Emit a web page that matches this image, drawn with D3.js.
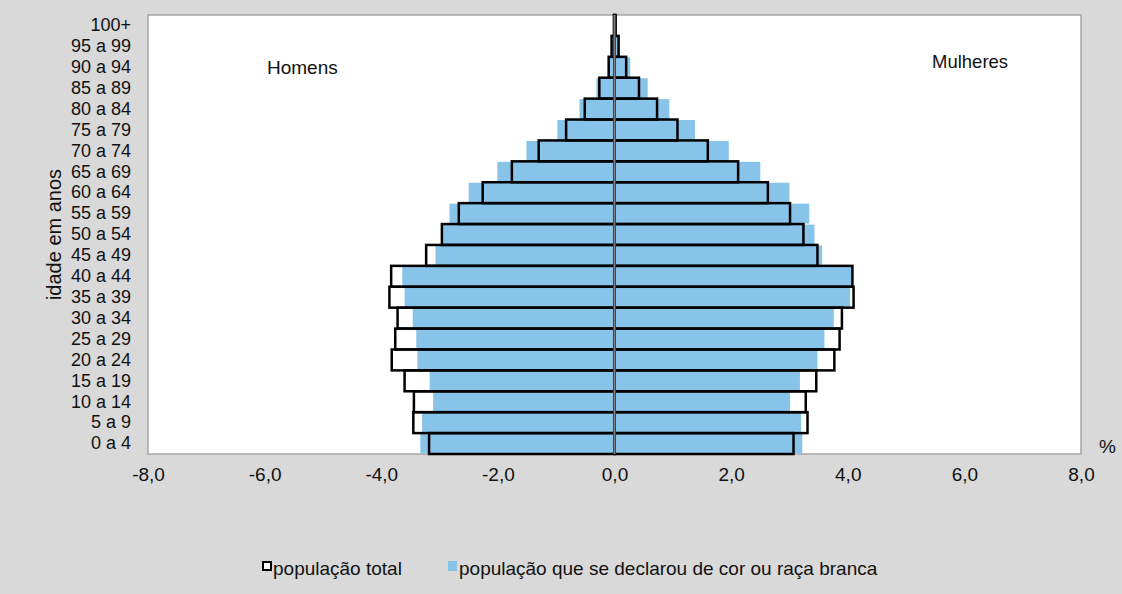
<!DOCTYPE html>
<html>
<head>
<meta charset="utf-8">
<script src="https://cdn.jsdelivr.net/npm/d3@7"></script>
<style>
  html, body { margin: 0; padding: 0; background: #d9d9d9; }
  svg { display: block; font-family: "Liberation Sans", Arial, sans-serif; }
</style>
</head>
<body>
<div id="chart"></div>
<script>
"use strict";

// age groups, from youngest to oldest
const age_groups = ["0 a 4", "5 a 9", "10 a 14", "15 a 19", "20 a 24", "25 a 29", "30 a 34",
    "35 a 39", "40 a 44", "45 a 49", "50 a 54", "55 a 59", "60 a 64", "65 a 69",
    "70 a 74", "75 a 79", "80 a 84", "85 a 89", "90 a 94", "95 a 99", "100+"];

// percentages (men are negative)
const men_total = [-3.18, -3.45, -3.44, -3.60, -3.82, -3.76, -3.72, -3.86, -3.83, -3.23,
    -2.96, -2.67, -2.26, -1.76, -1.30, -0.83, -0.51, -0.26, -0.10, -0.05, -0.01];
const men_white = [-3.33, -3.30, -3.11, -3.17, -3.38, -3.40, -3.46, -3.60, -3.64, -3.07,
    -2.94, -2.83, -2.50, -2.01, -1.51, -0.98, -0.60, -0.31, -0.11, -0.04, -0.01];
const women_total = [3.07, 3.31, 3.28, 3.46, 3.77, 3.86, 3.90, 4.10, 4.08, 3.48,
    3.24, 3.01, 2.63, 2.12, 1.60, 1.08, 0.73, 0.42, 0.20, 0.07, 0.02];
const women_white = [3.22, 3.20, 3.01, 3.18, 3.48, 3.60, 3.76, 4.04, 4.06, 3.56,
    3.43, 3.34, 3.00, 2.50, 1.96, 1.38, 0.94, 0.57, 0.27, 0.09, 0.02];

const x_ticks = [-8, -6, -4, -2, 0, 2, 4, 6, 8];
const legend_labels = ["população total", "população que se declarou de cor ou raça branca"];

const width = 1122, height = 594;
const margins = {top: 15, right: 41, bottom: 140, left: 148};
const plot_width = width - margins.left - margins.right;
const plot_height = height - margins.top - margins.bottom;

const blue = "#88c4ea";
const text_color = "#111111";

const svg = d3.select("#chart").append("svg")
    .attr("width", width)
    .attr("height", height);

svg.append("rect")
    .attr("width", width)
    .attr("height", height)
    .attr("fill", "#d9d9d9");

const x_scale = d3.scaleLinear()
    .domain([-8, 8])
    .range([0, plot_width]);

// oldest group on top
const y_scale = d3.scaleBand()
    .domain(age_groups.slice().reverse())
    .range([0, plot_height])
    .padding(0);

const plot = svg.append("g")
    .attr("transform", "translate(" + margins.left + "," + margins.top + ")");

plot.append("rect")
    .attr("width", plot_width)
    .attr("height", plot_height)
    .attr("fill", "white")
    .attr("stroke", "#a6a6a6")
    .attr("stroke-width", 1.5);

function bar_x(v) { return x_scale(Math.min(0, v)); }
function bar_w(v) { return Math.abs(x_scale(v) - x_scale(0)); }

// white population, blue filled bars
[men_white, women_white].forEach(function (series) {
    plot.append("g")
        .selectAll("rect")
        .data(series)
        .join("rect")
        .attr("x", d => bar_x(d))
        .attr("y", (d, i) => y_scale(age_groups[i]) + 0.5)
        .attr("width", d => bar_w(d))
        .attr("height", y_scale.bandwidth() - 1)
        .attr("fill", blue);
});

// total population, black outlines on top
[men_total, women_total].forEach(function (series) {
    plot.append("g")
        .selectAll("rect")
        .data(series)
        .join("rect")
        .attr("x", d => bar_x(d))
        .attr("y", (d, i) => y_scale(age_groups[i]))
        .attr("width", d => bar_w(d))
        .attr("height", y_scale.bandwidth())
        .attr("fill", "none")
        .attr("stroke", "black")
        .attr("stroke-width", 2.5);
});

// zero line
plot.append("line")
    .attr("x1", x_scale(0))
    .attr("x2", x_scale(0))
    .attr("y1", 0)
    .attr("y2", plot_height)
    .attr("stroke", "#808080")
    .attr("stroke-width", 2);

// X axis
const x_axis = d3.axisBottom(x_scale)
    .tickValues(x_ticks)
    .tickSize(0)
    .tickPadding(14)
    .tickFormat(d => d.toFixed(1).replace(".", ","));

const gx = plot.append("g")
    .attr("transform", "translate(0," + plot_height + ")")
    .call(x_axis);
gx.select(".domain").remove();
gx.selectAll("text")
    .attr("font-family", "Liberation Sans, Arial, sans-serif")
    .attr("font-size", 19)
    .attr("fill", text_color);

// Y axis
const y_axis = d3.axisLeft(y_scale)
    .tickSize(0)
    .tickPadding(17);

const gy = plot.append("g").call(y_axis);
gy.select(".domain").remove();
gy.selectAll("text")
    .attr("font-family", "Liberation Sans, Arial, sans-serif")
    .attr("font-size", 18)
    .attr("fill", text_color);

// labels
const title_y = margins.top + plot_height / 2;
svg.append("text")
    .attr("x", 61)
    .attr("y", title_y)
    .attr("transform", "rotate(-90, 61, " + title_y + ")")
    .attr("text-anchor", "middle")
    .attr("font-size", 20)
    .attr("fill", text_color)
    .text("idade em anos");

svg.append("text")
    .attr("x", 267)
    .attr("y", 74)
    .attr("font-size", 19)
    .attr("fill", text_color)
    .text("Homens");

svg.append("text")
    .attr("x", 932)
    .attr("y", 68)
    .attr("font-size", 18.5)
    .attr("fill", text_color)
    .text("Mulheres");

svg.append("text")
    .attr("x", 1099)
    .attr("y", 453)
    .attr("font-size", 19)
    .attr("fill", text_color)
    .text("%");

// legend
const legend = svg.append("g");
legend.append("rect")
    .attr("x", 263)
    .attr("y", 562)
    .attr("width", 8)
    .attr("height", 8)
    .attr("fill", "white")
    .attr("stroke", "black")
    .attr("stroke-width", 2);
legend.append("text")
    .attr("x", 273)
    .attr("y", 575)
    .attr("font-size", 19)
    .attr("fill", text_color)
    .text(legend_labels[0]);
legend.append("rect")
    .attr("x", 448)
    .attr("y", 561)
    .attr("width", 9)
    .attr("height", 10)
    .attr("fill", blue);
legend.append("text")
    .attr("x", 459)
    .attr("y", 575)
    .attr("font-size", 19)
    .attr("fill", text_color)
    .text(legend_labels[1]);
</script>
</body>
</html>
